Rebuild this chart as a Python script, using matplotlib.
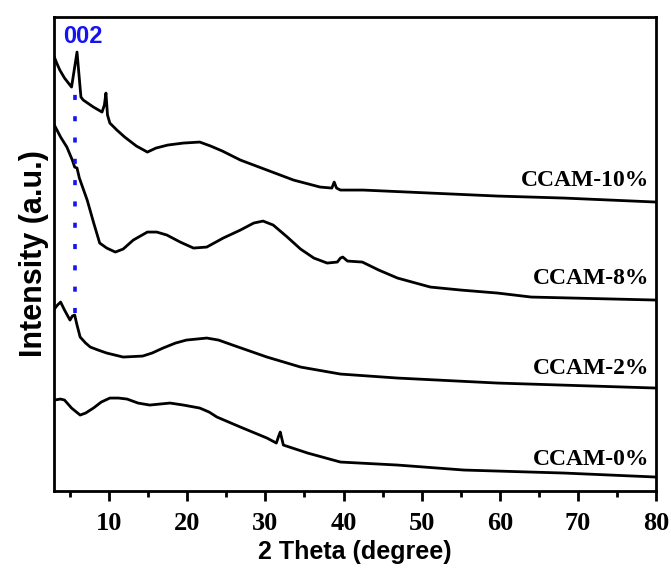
import matplotlib
matplotlib.use("Agg")
import matplotlib.pyplot as plt
from matplotlib.ticker import MultipleLocator

# 2-theta (degree) and intensity (a.u., offset stacked)
x10 = [3.0, 3.3, 3.7, 4.3, 5.0, 5.2, 5.5, 5.9, 6.1, 6.4, 6.7, 8.0, 9.1, 9.4, 9.6, 9.8, 10.1,
       11.0, 12.0, 13.5, 14.9, 16.0, 17.5, 19.5, 21.6, 23.0, 24.5, 26.8, 30.2, 33.6, 37.0,
       38.5, 38.8, 39.1, 39.6, 42.5, 51.1, 59.7, 68.2, 80.0]
y10 = [434, 428, 421, 413, 406, 404, 419, 439, 421, 394, 391, 384, 379, 386, 398, 376, 368,
       361, 354, 345, 339, 343, 346, 348, 349, 345, 340, 331, 321, 311, 304,
       303, 309, 303, 301, 301, 298, 295, 293, 289]

x8 = [3.0, 3.8, 4.6, 5.3, 5.6, 5.9, 6.2, 7.2, 8.0, 8.8, 9.7, 10.8, 11.8, 13.1, 14.9, 16.1,
      17.4, 19.1, 20.8, 22.5, 24.6, 26.8, 28.5, 29.7, 31.0, 32.8, 34.5, 36.2, 37.9, 39.2,
      39.6, 39.9, 40.5, 42.4, 44.5, 46.9, 51.1, 55.0, 59.7, 64.0, 80.0]
y8 = [366, 354, 344, 331, 324, 323, 313, 291, 269, 248, 243, 239, 242, 251, 259, 259,
      256, 249, 243, 244, 253, 261, 268, 270, 266, 254, 242, 233, 228, 229,
      233, 234, 230, 229, 221, 213, 204, 201, 198, 194, 191]

x2 = [3.0, 3.4, 3.8, 4.3, 5.0, 5.3, 5.6, 5.9, 6.3, 7.0, 7.6, 8.6, 9.7, 11.8, 14.3, 15.5,
      16.9, 18.5, 19.9, 22.5, 24.0, 25.8, 28.0, 30.2, 34.5, 39.6, 46.9, 59.7, 80.0]
y2 = [182, 186, 189, 181, 171, 175, 176, 166, 154, 148, 144, 141, 138, 134, 135, 138,
      143, 148, 151, 153, 151, 146, 140, 134, 124, 117, 113, 108, 103]

x0 = [3.0, 3.8, 4.3, 5.2, 6.3, 7.0, 8.0, 9.0, 10.1, 11.2, 12.3, 13.7, 15.2, 16.5, 17.8,
      19.5, 21.6, 22.8, 23.8, 26.8, 30.2, 31.4, 31.7, 31.9, 32.3, 35.4, 39.6, 46.9, 55.4,
      68.2, 80.0]
y0 = [91, 92, 91, 83, 76, 78, 83, 89, 93, 93, 92, 88, 86, 87, 88,
      86, 83, 79, 74, 64, 53, 48, 55, 59, 46, 38, 29, 26, 21,
      18, 14]

series = [(x10, y10, "CCAM-10%"), (x8, y8, "CCAM-8%"), (x2, y2, "CCAM-2%"), (x0, y0, "CCAM-0%")]
label_y = [311, 213, 123, 32]

peak_x = 5.6
peak_y = [178, 409]

fig = plt.figure(figsize=(6.71, 5.69), dpi=100)
ax = fig.add_axes([0.081, 0.137, 0.897, 0.833])

for (xs, ys, name), ly in zip(series, label_y):
    ax.plot(xs, ys, color="black", lw=2.0, solid_joinstyle="round")
    ax.text(79.1, ly, name, ha="right", va="center", fontsize=17, fontweight="bold",
            family="Liberation Serif")

ax.plot([peak_x, peak_x], peak_y, color="#1414f0", lw=2.6, ls=(0, (1.4, 4.5)))
ax.text(4.1, 455, "002", color="#1414f0", ha="left", va="center", fontsize=17,
        fontweight="bold", family="Liberation Sans")

ax.set_xlim(3, 80)
ax.set_ylim(0, 474)
ax.xaxis.set_major_locator(MultipleLocator(10))
ax.xaxis.set_minor_locator(MultipleLocator(5))
ax.set_yticks([])
ax.tick_params(axis="x", which="major", direction="out", length=7, width=2, pad=8)
ax.tick_params(axis="x", which="minor", direction="out", length=4, width=2)
for lab in ax.get_xticklabels():
    lab.set_fontfamily("Liberation Serif")
    lab.set_fontweight("bold")
    lab.set_fontsize(19)
for sp in ax.spines.values():
    sp.set_linewidth(2)

ax.set_xlabel("2 Theta (degree)", fontsize=18, fontweight="bold", family="Liberation Sans",
              labelpad=4)
ax.set_ylabel("Intensity (a.u.)", fontsize=22, fontweight="bold", family="Liberation Sans",
              labelpad=4)

fig.savefig("out.png", dpi=100)
